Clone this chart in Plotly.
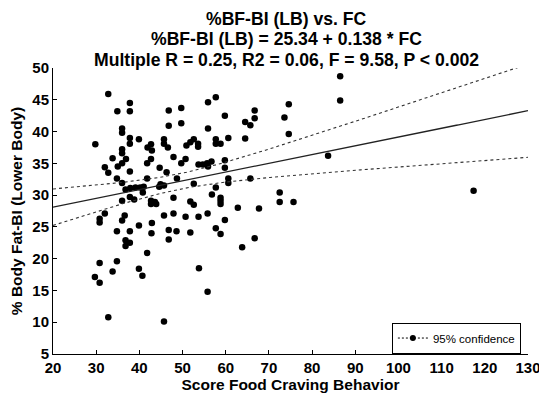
import numpy as np
import plotly.graph_objects as go

# Food craving score (x) and % body fat lower body (y)
fc_score = [
    32.8, 37.8, 34.9, 37.8, 46.8, 49.7, 55.9, 57.7, 49.7, 46.8,
    36.0, 36.0, 55.9, 37.8, 39.9, 29.8, 37.8, 45.7, 45.7, 42.7,
    41.9, 42.9, 46.6, 52.6, 51.8, 50.9, 53.6, 53.6, 57.7, 57.7,
    58.8, 36.0, 36.0, 33.8, 36.9, 42.7, 41.8, 47.9, 50.7, 49.7,
    53.7, 54.7, 55.7, 56.7, 55.9, 59.8, 59.8, 36.0, 35.0, 32.0,
    32.8, 37.8, 44.7, 46.3, 34.8, 41.8, 48.7, 36.0, 52.6, 44.9,
    45.7, 44.6, 36.8, 37.9, 39.1, 40.2, 41.0, 40.8, 57.7, 56.8,
    58.8, 58.8, 58.8, 60.6, 60.6, 65.7, 47.9, 36.0, 37.8, 38.8,
    42.7, 42.7, 43.6, 43.9, 51.8, 52.6, 32.0, 30.8, 30.8, 36.6,
    36.0, 45.7, 47.9, 50.7, 53.7, 55.8, 39.9, 42.9, 34.8, 37.8,
    42.8, 46.8, 48.6, 51.8, 57.7, 58.8, 46.8, 36.8, 37.8, 36.8,
    41.8, 30.8, 34.8, 33.8, 39.9, 40.7, 29.7, 30.8, 53.8, 55.8,
    32.8, 45.7, 62.8, 67.7, 59.8, 66.7, 63.8, 72.5, 72.5, 75.7,
    86.5, 86.5, 74.6, 73.6, 59.8, 66.7, 66.7, 64.5, 65.7, 74.6,
    64.5, 60.6, 83.7, 117.4,
]
body_fat_lb = [
    45.9, 44.5, 43.2, 43.2, 43.3, 43.7, 44.6, 45.4, 41.3, 40.9,
    40.5, 39.8, 40.5, 39.0, 38.8, 38.0, 38.1, 38.8, 38.1, 38.0,
    37.5, 37.0, 37.5, 38.8, 38.3, 37.8, 38.1, 37.6, 38.8, 38.1,
    38.1, 37.2, 36.6, 35.8, 35.7, 35.7, 35.0, 36.0, 35.7, 35.0,
    34.8, 34.8, 35.0, 35.3, 34.5, 35.5, 34.3, 35.0, 34.5, 34.4,
    33.5, 33.7, 34.3, 33.6, 32.6, 32.6, 32.6, 31.9, 31.8, 31.7,
    31.5, 31.3, 30.9, 31.1, 31.2, 31.2, 31.3, 30.4, 31.2, 30.1,
    29.6, 29.1, 28.6, 32.6, 31.9, 32.6, 29.6, 29.1, 29.7, 29.3,
    29.1, 28.6, 28.9, 28.6, 29.0, 28.5, 27.1, 26.3, 25.7, 26.8,
    26.0, 26.8, 27.1, 26.6, 26.6, 27.1, 25.2, 25.6, 24.3, 24.3,
    24.0, 24.5, 24.3, 24.1, 24.8, 23.9, 23.0, 22.9, 22.5, 22.0,
    20.9, 19.3, 19.6, 18.0, 18.4, 17.3, 17.1, 16.2, 18.5, 14.8,
    10.8, 10.1, 28.0, 27.9, 26.1, 23.2, 21.8, 30.4, 28.9, 28.9,
    48.7, 44.9, 44.3, 42.2, 42.5, 43.3, 42.1, 41.5, 41.0, 39.6,
    38.9, 39.0, 36.2, 30.7,
]

# Regression from the chart title
INTERCEPT = 25.34
SLOPE = 0.138
T_CRIT = 1.976  # 95% two-sided t value

title_lines = [
    "%BF-BI (LB) vs. FC",
    "%BF-BI (LB) = 25.34 + 0.138 * FC",
    "Multiple R = 0.25, R2 = 0.06, F = 9.58, P < 0.002",
]
x_ticks = [20, 30, 40, 50, 60, 70, 80, 90, 100, 110, 120, 130]
y_ticks = [5, 10, 15, 20, 25, 30, 35, 40, 45, 50]

x = np.array(fc_score)
y = np.array(body_fat_lb)
n = len(x)
resid = y - (INTERCEPT + SLOPE * x)
s = np.sqrt(np.sum(resid ** 2) / (n - 2))
xbar = x.mean()
sxx = np.sum((x - xbar) ** 2)

xs = np.linspace(x_ticks[0], x_ticks[-1], 200)
yfit = INTERCEPT + SLOPE * xs
half = T_CRIT * s * np.sqrt(1.0 / n + (xs - xbar) ** 2 / sxx)

FONT = "Liberation Sans, Arial, Helvetica, sans-serif"

fig = go.Figure()
fig.add_trace(go.Scatter(x=x, y=y, mode="markers",
                         marker=dict(color="black", size=6.5),
                         showlegend=False, hoverinfo="x+y"))
fig.add_trace(go.Scatter(x=xs, y=yfit, mode="lines",
                         line=dict(color="#222222", width=1.3),
                         showlegend=False))
fig.add_trace(go.Scatter(x=xs, y=yfit + half, mode="lines",
                         line=dict(color="#333333", width=1.1, dash="3px,3px"),
                         showlegend=False))
fig.add_trace(go.Scatter(x=xs, y=yfit - half, mode="lines",
                         line=dict(color="#333333", width=1.1, dash="3px,3px"),
                         showlegend=False))
fig.add_trace(go.Scatter(x=[None], y=[None], mode="lines+markers",
                         name="95% confidence",
                         line=dict(color="black", width=1, dash="2px,2px"),
                         marker=dict(color="black", size=6)))

# title lines as annotations (paper coords above the plot area)
title_y = [1.172, 1.1, 1.028]
annotations = [
    dict(text=f"<b>{t}</b>", x=0.492, y=yy, xref="paper", yref="paper",
         xanchor="center", yanchor="middle", showarrow=False,
         font=dict(family=FONT, size=17.6, color="black"))
    for t, yy in zip(title_lines, title_y)
]

# page body has an 8px margin, so the figure is sized to fit the window
fig.update_layout(
    width=539, height=392,
    margin=dict(l=45, r=19, t=60, b=46, autoexpand=False),
    paper_bgcolor="white", plot_bgcolor="white",
    font=dict(family=FONT, color="black", size=14),
    annotations=annotations,
    xaxis=dict(range=[20, 130], tickvals=x_ticks,
               ticktext=[f"<b>{v}</b>" for v in x_ticks],
               showline=True, linecolor="black", linewidth=1,
               ticks="inside", ticklen=4, tickcolor="black",
               showgrid=False, zeroline=False, automargin=False,
               tickfont=dict(family=FONT, size=15),
               title=dict(text="<b>Score Food Craving Behavior</b>",
                          font=dict(family=FONT, size=15.5), standoff=2)),
    yaxis=dict(range=[5, 50], tickvals=y_ticks,
               ticktext=[f"<b>{v}</b>" for v in y_ticks],
               showline=True, linecolor="black", linewidth=1,
               ticks="inside", ticklen=4, tickcolor="black",
               showgrid=False, zeroline=False, automargin=False,
               tickfont=dict(family=FONT, size=15),
               title=dict(text="<b>% Body Fat-BI (Lower Body)</b>",
                          font=dict(family=FONT, size=15.5), standoff=6)),
    legend=dict(x=0.985, y=0.11, xanchor="right", yanchor="top",
                bgcolor="white", bordercolor="black", borderwidth=1,
                font=dict(family=FONT, size=11.5), itemwidth=30,
                tracegroupgap=0),
    showlegend=True,
)

fig.write_html("out.html")
